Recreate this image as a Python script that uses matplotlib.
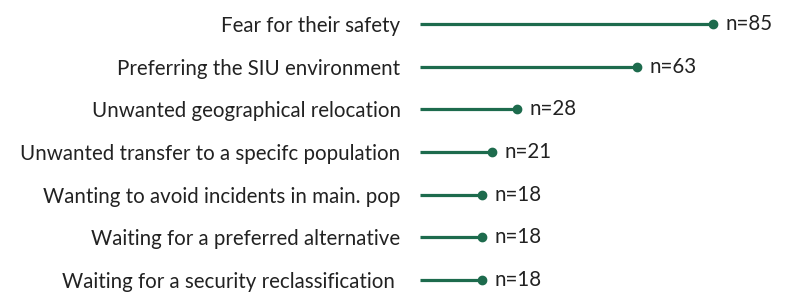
import matplotlib.pyplot as plt
import numpy as np

reasons = [
    "Fear for their safety",
    "Preferring the SIU environment",
    "Unwanted geographical relocation",
    "Unwanted transfer to a specifc population",
    "Wanting to avoid incidents in main. pop",
    "Waiting for a preferred alternative",
    "Waiting for a security reclassification ",
]
counts = [85, 63, 28, 21, 18, 18, 18]

green = "#1d6b4d"
plt.rcParams["font.family"] = ["Lato", "DejaVu Sans"]

fig = plt.figure(figsize=(8.01, 3.02), dpi=100)
ax = fig.add_axes([420 / 801, 0, 381 / 801, 1])

y = np.arange(len(reasons))
ax.hlines(y, 0, counts, color=green, linewidth=2.3)
ax.plot(counts, y, "o", color=green, markersize=6)
for yi, c in zip(y, counts):
    ax.annotate(f"n={c}", (c, yi), xytext=(9, 0), textcoords="offset points",
                va="center", ha="left", fontsize=14.8, color="#222222")

ax.set_xlim(0, 110.4)
ax.set_ylim(6.516, -0.5625)
ax.set_yticks(y)
ax.set_yticklabels(reasons, fontsize=14.8, color="#222222")
ax.tick_params(axis="y", length=0, pad=14)
ax.set_xticks([])
for s in ax.spines.values():
    s.set_visible(False)

fig.savefig("out.png", dpi=100)
